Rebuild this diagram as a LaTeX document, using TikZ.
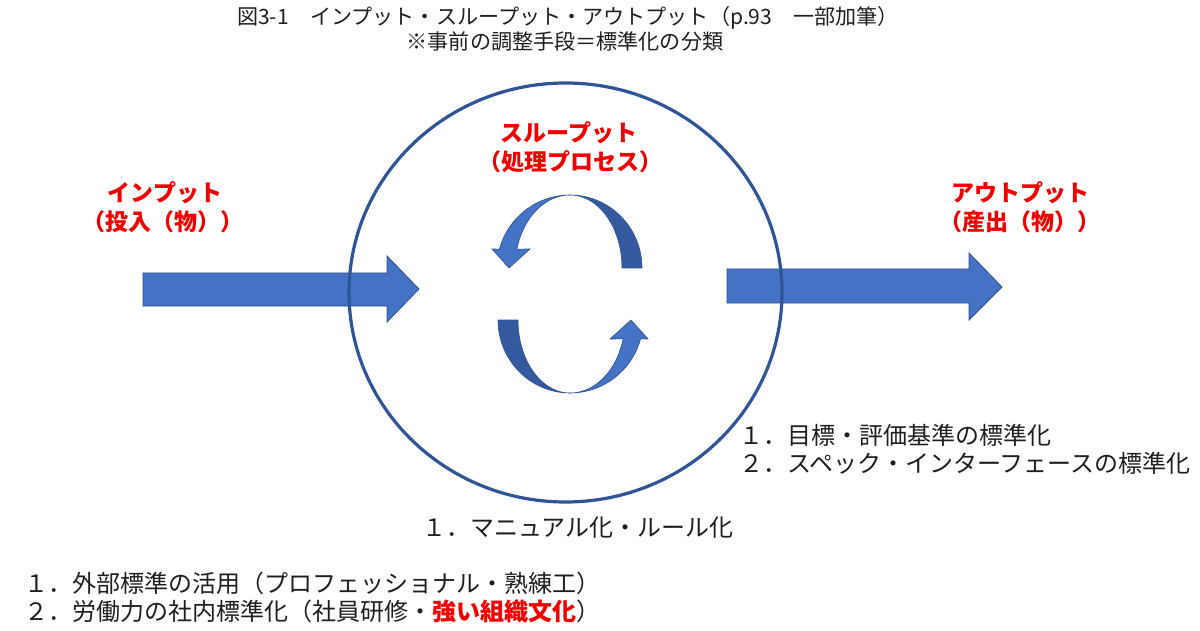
\documentclass[tikz,border=0pt]{standalone}
\usepackage{fontspec}
\newfontfamily\jp{Noto Sans CJK JP}
\definecolor{arrowfill}{HTML}{4472C4}
\definecolor{arrowline}{HTML}{2F528F}
\definecolor{darkband}{HTML}{34599E}
\definecolor{ringcol}{HTML}{2F5597}
\definecolor{labred}{HTML}{F00000}
\definecolor{txt}{HTML}{1E1E1E}
\begin{document}
\begin{tikzpicture}[x=1pt,y=-1pt,
  bigarrow/.style={fill=arrowfill,draw=arrowline,line width=0.8pt,line join=miter},
  lightband/.style={fill=arrowfill,draw=arrowline,line width=0.6pt,line join=miter},
  darkbandst/.style={fill=darkband,draw=arrowline,line width=0.6pt},
  titletext/.style={inner sep=0pt,text=txt,font=\jp\fontsize{21.1}{24}\selectfont},
  redlabel/.style={inner sep=0pt,text=labred,font=\jp\bfseries\fontsize{23}{28}\selectfont},
  listtext/.style={inner sep=0pt,anchor=west,text=txt,font=\jp\fontsize{24}{28}\selectfont}]
\useasboundingbox (0,0) rectangle (1200,631);
\fill[white] (0,0) rectangle (1200,631);
% titles
\node[titletext] (t1) at (568,18) {図3-1　インプット・スループット・アウトプット（p.93　一部加筆）};
\node[titletext] (t2) at (565,41) {※事前の調整手段＝標準化の分類};
% big arrows
\path[bigarrow] (143,273) -- (387,273) -- (387,256) -- (419,289) -- (387,322) -- (387,306) -- (143,306) -- cycle;
\path[bigarrow] (727,269) -- (969,269) -- (969,253) -- (1002,287) -- (969,320) -- (969,303) -- (727,303) -- cycle;
% ring
\draw[ringcol,line width=3.2pt] (565.5,292.5) ellipse[x radius=216.5,y radius=209.5];
% loop arrows
\foreach \r in {0,180}{
\begin{scope}[rotate around={\r:(570,294)}]
\path[darkbandst] plot[domain=0:-90,samples=40] ({570+72*cos(\x)},{268+73*sin(\x)})
  -- plot[domain=-90:0,samples=40] ({570+52*cos(\x)},{268+73*sin(\x)}) -- cycle;
\path[lightband] plot[domain=-90:-165,samples=40] ({570+73*cos(\x)},{268+73*sin(\x)})
  -- (492,249) -- (509,268) -- (530,249)
  -- plot[domain=-165:-90,samples=40] ({570+55*cos(\x)},{268+73*sin(\x)}) -- cycle;
\end{scope}}
% red labels
\node[redlabel] (in1) at (165,193) {インプット};
\node[redlabel] (in2) at (163,222) {（投入（物））};
\node[redlabel] (th1) at (569,133) {スループット};
\node[redlabel] (th2) at (570,162) {（処理プロセス）};
\node[redlabel] (ou1) at (1020,193) {アウトプット};
\node[redlabel] (ou2) at (1020,222) {（産出（物））};
% lists
\node[listtext] (r1) at (739,435) {１．目標・評価基準の標準化};
\node[listtext] (r2) at (739,463) {２．スペック・インターフェースの標準化};
\node[listtext] (c1) at (422,528) {１．マニュアル化・ルール化};
\node[listtext] (b1) at (24,583) {１．外部標準の活用（プロフェッショナル・熟練工）};
\node[listtext] (b2) at (24,611) {２．労働力の社内標準化（社員研修・{\bfseries\color{labred}強い組織文化}）};
\end{tikzpicture}
\end{document}
